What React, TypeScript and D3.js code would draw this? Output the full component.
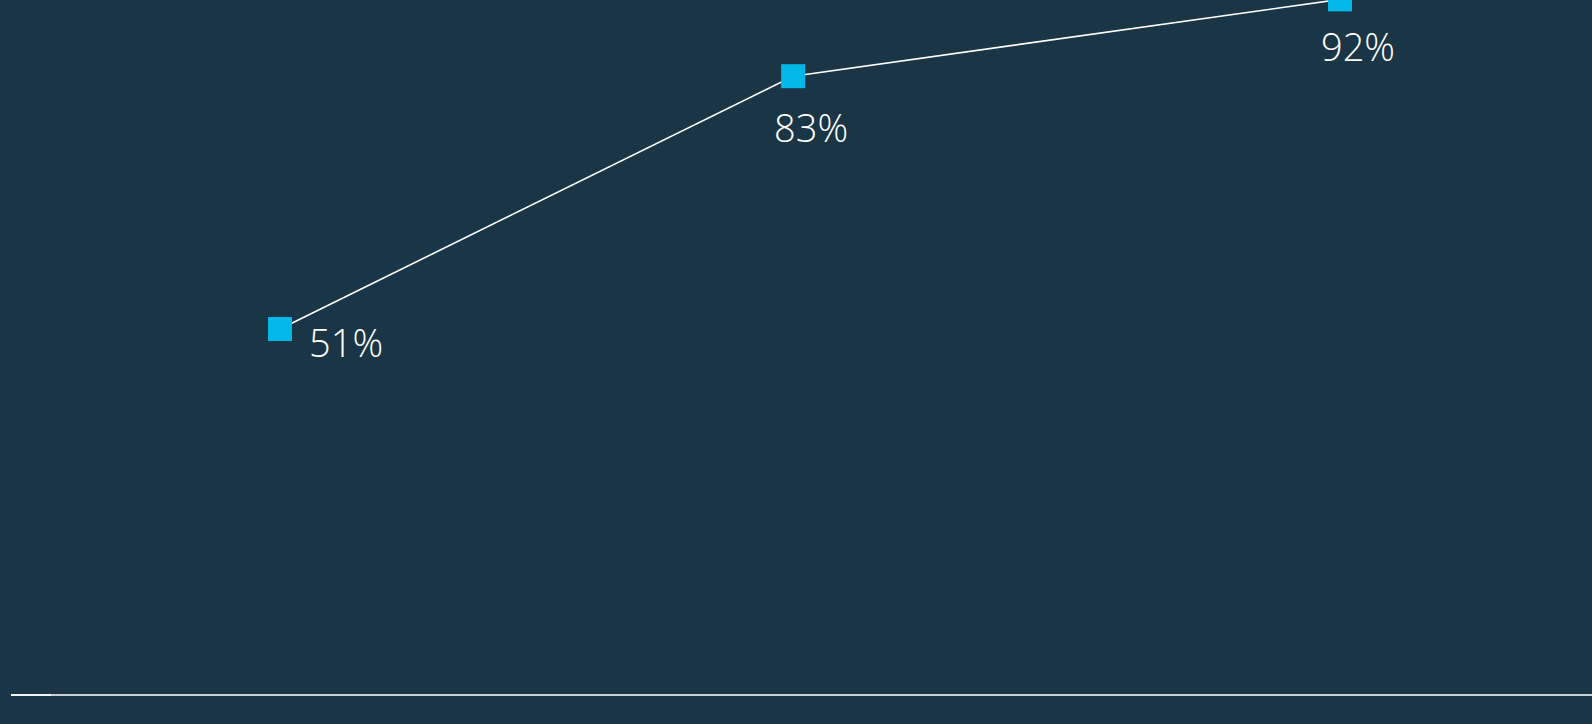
import React from "react";
import * as d3 from "d3";

const dates = ["2020-01-01", "2021-05-01", "2022-10-01"];
const values = [51.0, 82.6, 92.2];
const labels = ["51%", "83%", "92%"];

// label layout (offsets relative to marker centre)
const labelDx = [29, 18, 18];
const labelDy = [28, 66, 62];
const labelAnchor = ["start", "middle", "middle"];

const W = 1592;
const H = 724;

export default function App() {
  const parse = d3.timeParse("%Y-%m-%d");
  const xs = dates.map((d) => parse(d) as Date);
  const x = d3
    .scaleTime()
    .domain([xs[0], xs[xs.length - 1]])
    .range([280, 1340]);
  const y = d3.scaleLinear().domain([0, 100]).range([737, -63]);
  const pts = xs.map((d, i) => [x(d), y(values[i])] as [number, number]);
  const line = d3.line<[number, number]>()(pts) || "";
  const size = 24;
  return (
    <div style={{ position: "fixed", left: 0, top: 0, width: W, height: H }}>
      <svg width={W} height={H} style={{ display: "block" }}>
        <rect x={0} y={0} width={W} height={H} fill="#1a3545" />
        <line x1={11} x2={W} y1={695} y2={695} stroke="#c9d0d4" strokeWidth={2} />
        <line x1={11} x2={51} y1={695} y2={695} stroke="#f2f4f5" strokeWidth={2} />
        <path d={line} fill="none" stroke="#ffffff" strokeWidth={1.6} />
        {pts.map(([px, py], i) => (
          <rect
            key={"m" + i}
            x={px - size / 2}
            y={py - size / 2}
            width={size}
            height={size}
            fill="#01b8e8"
          />
        ))}
        {pts.map(([px, py], i) => (
          <text
            key={"t" + i}
            x={px + labelDx[i]}
            y={py + labelDy[i]}
            textAnchor={labelAnchor[i] as any}
            fill="#ffffff"
            fontFamily="'Segoe UI', 'Open Sans', sans-serif"
            fontWeight={350}
            fontSize={38}
          >
            {labels[i]}
          </text>
        ))}
      </svg>
    </div>
  );
}
